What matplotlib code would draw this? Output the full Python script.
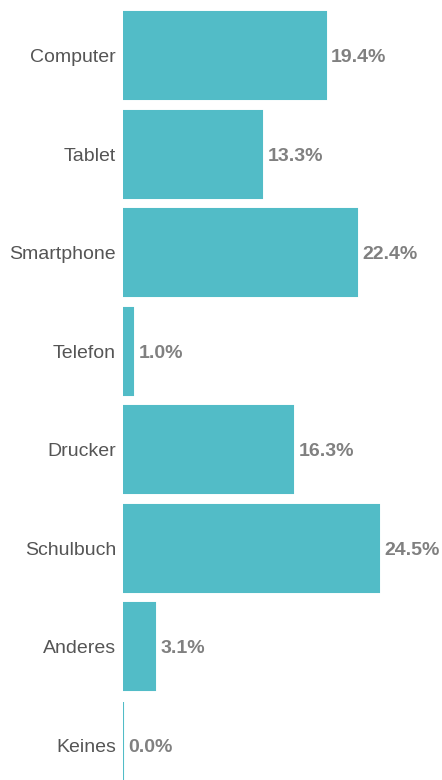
import matplotlib
matplotlib.use("Agg")
import matplotlib.pyplot as plt

categories = ["Computer", "Tablet", "Smartphone", "Telefon", "Drucker", "Schulbuch", "Anderes", "Keines"]
values = [19.4, 13.3, 22.4, 1.0, 16.3, 24.5, 3.1, 0.0]

plt.rcParams['font.family'] = ['Liberation Sans', 'DejaVu Sans']

fig = plt.figure(figsize=(4.42, 7.8), dpi=100)
ax = fig.add_axes([123/442, 0, 1 - 123/442, 1])
color = "#52bcc7"
pos = list(range(len(categories)))
ax.barh(pos, values, height=0.883, color=color, edgecolor=color, linewidth=1.5)
ax.set_xlim(0, (442 - 123) / 10.46)
ax.set_ylim(7.35, -0.563)
ax.set_yticks(pos)
ax.set_yticklabels(categories, fontsize=14, color="#555555", va="center_baseline")
ax.tick_params(axis='y', length=0, pad=5)
ax.set_xticks([])
for s in ax.spines.values():
    s.set_visible(False)
for p, v in zip(pos, values):
    ax.text(v + 0.5, p, f"{v:.1f}%", va="center_baseline", ha="left", fontsize=14,
            fontweight="bold", color="#808080")
fig.savefig("out.png", dpi=100)
